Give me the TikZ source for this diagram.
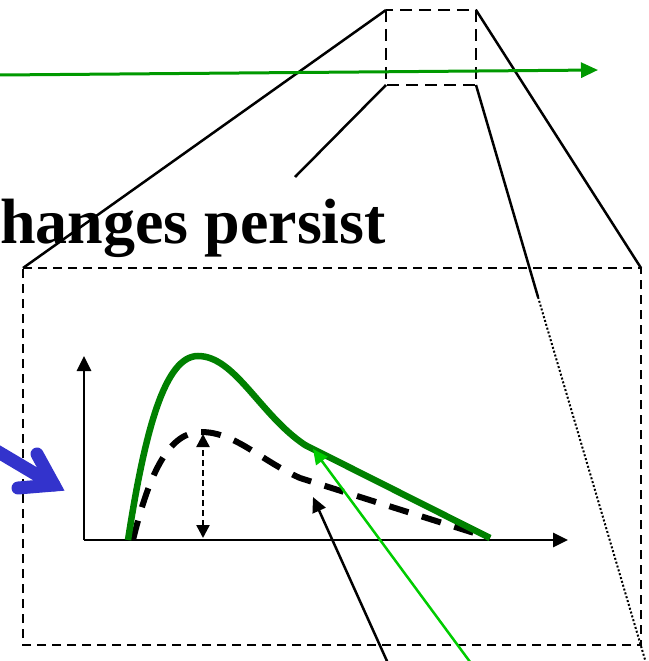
\documentclass[tikz,border=0pt]{standalone}
\usepackage{fontspec}
\setmainfont{Liberation Serif}
\usetikzlibrary{arrows.meta,calc}
\definecolor{CurveGreen}{RGB}{0,128,0}
\definecolor{LineGreen}{RGB}{0,153,0}
\definecolor{LimeGreen}{RGB}{0,204,0}
\definecolor{PushBlue}{RGB}{51,51,204}
\tikzset{
  zoomframe/.style={draw=black,line width=2.8pt,dash pattern=on 9pt off 6pt},
  smallframe/.style={draw=black,line width=2.8pt,dash pattern=on 12pt off 7pt},
  guide/.style={draw=black,line width=2.5pt},
  dotguide/.style={draw=black,line width=2pt,dash pattern=on 2pt off 2pt},
  axis/.style={-{Triangle[length=15pt,width=14pt]},line width=2.8pt},
  curve/.style={draw=CurveGreen,line width=6.5pt},
  dashcurve/.style={draw=black,line width=6pt,dash pattern=on 20pt off 14pt},
  gap/.style={{Triangle[length=13pt,width=13pt]}-{Triangle[length=13pt,width=13pt]},
    line width=2.4pt,dash pattern=on 6pt off 4pt},
  pointer/.style={-{Triangle[length=15pt,width=14pt]},line width=2.5pt},
  timeline/.style={-{Triangle[length=17pt,width=15pt]},line width=3pt,color=LineGreen},
  push/.style={draw=PushBlue,line width=13pt,line cap=round},
  caption/.style={font=\fontsize{64}{64}\selectfont\bfseries,inner sep=0pt,anchor=base west}
}

\begin{document}
\begin{tikzpicture}[x=1pt,y=-1pt]
  \useasboundingbox (0,0) rectangle (648,661);
  \clip (0,0) rectangle (648,661);

  % zoomed region and its projection
  \coordinate (zTL) at (386,10);
  \coordinate (zTR) at (476,10);
  \coordinate (zBL) at (386,85);
  \coordinate (zBR) at (476,85);
  \coordinate (bTL) at (23,268);
  \coordinate (bTR) at (641,268);
  \coordinate (bBR) at (641,645);
  \coordinate (bBL) at (23,645);
  \coordinate (sEnd) at (295,177);
  \coordinate (kink) at (538,297);
  \coordinate (dEnd) at (651,680);

  \draw[smallframe] (zTL) rectangle (zBR);
  \draw[guide] (zTL) -- (bTL);
  \draw[guide] (zTR) -- (bTR);
  \draw[guide] (zBL) -- (sEnd);
  \draw[guide] (zBR) -- (kink);
  \draw[dotguide] (kink) -- (dEnd);
  \draw[zoomframe] (bTL) -- (bTR) -- (bBR) -- (bBL) -- cycle;

  \node[caption] (persist) at (0,243) {hanges persist};

  % time line
  \coordinate (tStart) at (0,75);
  \coordinate (tEnd) at (598,70);
  \draw[timeline] (tStart) -- (tEnd);

  % the plot
  \coordinate (origin) at (84,540);
  \coordinate (yTip) at (84,356);
  \coordinate (xTip) at (568,540);
  \draw[axis] (origin) -- (yTip);
  \draw[axis] (origin) -- (xTip);

  \draw[dashcurve] (133,540) .. controls (150,470) and (170,432) .. (201,432)
    .. controls (235,432) and (260,460) .. (300,478) -- (490,538);
  \draw[curve] (128,540) .. controls (145,430) and (165,356) .. (198,356)
    .. controls (235,356) and (260,415) .. (305,445) -- (490,538);

  \coordinate (gTop) at (203,434);
  \coordinate (gBot) at (203,538);
  \draw[gap] (gBot) -- (gTop);

  % pointers from below
  \coordinate (oldTip) at (313,497);
  \coordinate (oldStart) at (391,670);
  \coordinate (newTip) at (313,449);
  \coordinate (newStart) at (476,670);
  \draw[pointer] (oldStart) -- (oldTip);
  \draw[pointer,color=LimeGreen] (newStart) -- (newTip);

  % blue push arrow
  \coordinate (pStart) at (-10,447);
  \coordinate (pTip) at (54,485);
  \coordinate (pUp) at (37,454);
  \coordinate (pLow) at (18,488);
  \draw[push] (pStart) -- (pTip);
  \draw[push,line join=miter] (pUp) -- (pTip) -- (pLow);
\end{tikzpicture}
\end{document}
